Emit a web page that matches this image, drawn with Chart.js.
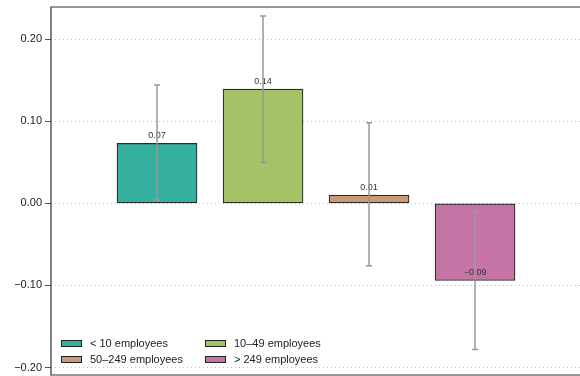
<!DOCTYPE html>
<html>
<head>
<meta charset="utf-8">
<script src="https://cdn.jsdelivr.net/npm/chart.js@4"></script>
<style>
  html, body { margin: 0; padding: 0; background: #fff; overflow: hidden; }
  #wrap { width: 580px; height: 376px; }
</style>
</head>
<body>
<div id="wrap"><canvas id="chart"></canvas></div>
<script>
var groups = ['< 10 employees', '10–49 employees', '50–249 employees', '> 249 employees'];
var values = [0.073, 0.139, 0.010, -0.094];
var lower = [0.004, 0.050, -0.076, -0.178];
var upper = [0.144, 0.228, 0.098, -0.011];
var colors = ['#35B09E', '#A6C267', '#C99A77', '#C474A5'];

var FONT = '"Liberation Sans", Arial, sans-serif';

function fmt(v) {
  var s = Math.abs(v).toFixed(2);
  return (v < -0.0005 ? '\u2212' : '') + s;
}

// left axis line plus top and bottom rules around the plot
var framePlugin = {
  id: 'frame',
  afterDraw: function (chart) {
    var a = chart.chartArea, ctx = chart.ctx;
    ctx.save();
    ctx.strokeStyle = '#333';
    ctx.lineWidth = 1.2;
    ctx.beginPath();
    ctx.moveTo(a.right, a.top);
    ctx.lineTo(a.left, a.top);
    ctx.lineTo(a.left, a.bottom);
    ctx.lineTo(a.right, a.bottom);
    ctx.stroke();
    ctx.restore();
  }
};

// value labels and confidence whiskers
var markPlugin = {
  id: 'marks',
  afterDatasetsDraw: function (chart) {
    var ctx = chart.ctx, y = chart.scales.y;
    ctx.save();
    ctx.font = '9px ' + FONT;
    ctx.fillStyle = '#333';
    ctx.textAlign = 'center';
    ctx.textBaseline = 'middle';
    chart.data.datasets.forEach(function (ds, i) {
      var bar = chart.getDatasetMeta(i).data[0];
      ctx.fillText(fmt(values[i]), bar.x, y.getPixelForValue(values[i]) - 8);
    });
    ctx.strokeStyle = '#999';
    ctx.lineWidth = 1.5;
    chart.data.datasets.forEach(function (ds, i) {
      var x = chart.getDatasetMeta(i).data[0].x;
      var y1 = y.getPixelForValue(lower[i]);
      var y2 = y.getPixelForValue(upper[i]);
      ctx.beginPath();
      ctx.moveTo(x, y1); ctx.lineTo(x, y2);
      ctx.moveTo(x - 3, y1); ctx.lineTo(x + 3, y1);
      ctx.moveTo(x - 3, y2); ctx.lineTo(x + 3, y2);
      ctx.stroke();
    });
    ctx.restore();
  }
};

// two-column legend tucked into the lower left of the plot
var legendPlugin = {
  id: 'innerLegend',
  afterDraw: function (chart) {
    var a = chart.chartArea, ctx = chart.ctx;
    ctx.save();
    ctx.font = '11px ' + FONT;
    ctx.textBaseline = 'middle';
    ctx.textAlign = 'left';
    chart.data.datasets.forEach(function (ds, i) {
      var col = i % 2, row = Math.floor(i / 2);
      var x = a.left + 10 + col * 144;
      var y = a.bottom - 35 + row * 16;
      ctx.fillStyle = ds.backgroundColor;
      ctx.fillRect(x, y, 21, 7);
      ctx.strokeStyle = '#222';
      ctx.lineWidth = 1;
      ctx.strokeRect(x + 0.5, y + 0.5, 20, 6);
      ctx.fillStyle = '#222';
      ctx.fillText(ds.label, x + 29, y + 4);
    });
    ctx.restore();
  }
};

var datasets = groups.map(function (g, i) {
  return {
    label: g,
    data: [{ x: i, y: values[i] }],
    backgroundColor: colors[i],
    borderColor: '#2a2a2a',
    borderWidth: 1.2,
    borderSkipped: false,
    barThickness: 80,
    grouped: false
  };
});

var config = {
  type: 'bar',
  data: { datasets: datasets },
  options: {
    responsive: true,
    maintainAspectRatio: false,
    animation: false,
    layout: { padding: { top: 7, bottom: 1, left: 0, right: 0 } },
    plugins: {
      legend: { display: false },
      tooltip: { enabled: false }
    },
    scales: {
      x: {
        type: 'linear',
        offset: false,
        min: -1,
        max: 3.99,
        display: false
      },
      y: {
        min: -0.2091,
        max: 0.2391,
        afterFit: function (scale) {
          scale.width = 51;
          scale.paddingTop = 0;
          scale.paddingBottom = 0;
        },
        ticks: {
          stepSize: 0.1,
          includeBounds: false,
          color: '#222',
          padding: 3,
          font: { family: FONT, size: 11 },
          callback: function (v) { return fmt(v); }
        },
        grid: {
          color: '#c4c4c4',
          lineWidth: 1,
          tickLength: 6,
          tickColor: '#555',
          tickWidth: 1
        },
        border: { display: false, dash: [1, 3] }
      }
    }
  },
  plugins: [framePlugin, markPlugin, legendPlugin]
};

new Chart(document.getElementById('chart'), config);
</script>
</body>
</html>
